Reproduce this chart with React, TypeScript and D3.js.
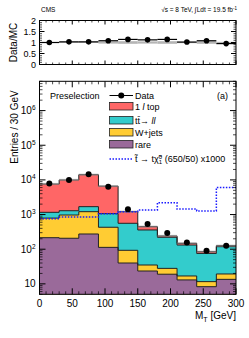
import React from "react";
import * as d3 from "d3";

const binEdges = [0, 30, 60, 90, 120, 150, 180, 210, 240, 270, 300];
const rare = [215, 207, 275, 113, 40, 23.5, 19, 13, 8.3, 13.5];
const wjets = [575, 763, 935, 317, 53, 11.5, 9, 3.9, 3.3, 5.8];
const ttll = [370, 320, 480, 630, 467, 324, 193, 115, 64, 99];
const top1l = [6440, 8660, 12410, 5540, 650, 88, 20, 16, 9, 8];
const dataVals = [7900, 10000, 14500, 6300, 1420, 535, 294, 155, 91, 126];
const signalX1000 = [760, 850, 850, 1060, 1200, 1350, 2200, 1450, 1270, 6000];
const ratioVals = [1.0, 1.03, 1.03, 1.08, 1.14, 1.12, 1.14, 1.02, 1.08, 0.95];
const ratioUnc = [0.02, 0.02, 0.02, 0.05, 0.06, 0.05, 0.06, 0.03, 0.06, 0.03];
const xTicks = [0, 50, 100, 150, 200, 250, 300];
const yDecades = [1, 2, 3, 4, 5, 6];
const ratioTicks = [0, 0.5, 1, 1.5, 2];

const colors = {
  rare: "#9a6a9a",
  wjets: "#ffcc33",
  ttll: "#33cccc",
  top1l: "#ff6666",
};

const FONT = "'Liberation Sans', Arial, Helvetica, sans-serif";

export default function App() {
  const x0 = 39.5, x1 = 236;
  const x = d3.scaleLinear().domain([0, 300]).range([x0, x1]);
  const y = d3.scaleLog().domain([5, 7e6]).range([294.3, 81.3]);
  const yr = d3.scaleLinear().domain([0, 2]).range([64.5, 20.5]);
  const nb = binEdges.length - 1;
  const idx = d3.range(nb);

  const layers = [
    { key: "rare", vals: rare, color: colors.rare },
    { key: "wjets", vals: wjets, color: colors.wjets },
    { key: "ttll", vals: ttll, color: colors.ttll },
    { key: "top1l", vals: top1l, color: colors.top1l },
  ];
  const cum: number[][] = [];
  let acc = idx.map(() => 0);
  layers.forEach((l) => {
    acc = acc.map((a, i) => a + l.vals[i]);
    cum.push(acc.slice());
  });
  const total = cum[cum.length - 1];

  const yBottom = y.range()[0];
  const stepPath = (vals: number[], close: boolean, ys: (v: number) => number) => {
    let d = "";
    idx.forEach((i) => {
      const xa = x(binEdges[i]), xb = x(binEdges[i + 1]);
      const yy = ys(vals[i]);
      d += (i === 0 ? (close ? `M${xa},${yBottom}L${xa},${yy}` : `M${xa},${yy}`) : `L${xa},${yy}`) + `L${xb},${yy}`;
    });
    if (close) d += `L${x(300)},${yBottom}Z`;
    return d;
  };

  // minor log ticks
  const logMinor: number[] = [];
  for (let k = 0; k <= 6; k++) {
    for (let m = 2; m <= 9; m++) {
      const v = m * Math.pow(10, k);
      if (v >= 5 && v <= 7e6) logMinor.push(v);
    }
  }
  const xMinor = d3.range(0, 301, 10).filter((v) => v % 50 !== 0);
  const rMinor = d3.range(0, 2.01, 0.1).filter((v) => Math.abs(v * 2 - Math.round(v * 2)) > 0.01);

  const mainTop = y.range()[1];
  const rTop = yr.range()[1], rBot = yr.range()[0];

  const legendX = 109.5, legendW = 23.5;
  const legendItems = [
    { label: "top1l", color: colors.top1l, y: 102.5 },
    { label: "ttll", color: colors.ttll, y: 116.5 },
    { label: "wjets", color: colors.wjets, y: 128.5 },
    { label: "rare", color: colors.rare, y: 140.5 },
  ];
  const legendText = (k: string) => {
    if (k === "top1l") return (<>1 <tspan fontStyle="italic">l</tspan> top</>);
    if (k === "ttll") return (<>t{"t\u0304"}→ <tspan fontStyle="italic">ll</tspan></>);
    if (k === "wjets") return "W+jets";
    return "rare";
  };

  return (
    <svg width={249} height={338} style={{ position: "absolute", left: 0, top: 0, background: "#fff" }} fontFamily={FONT}>
      <rect x={0} y={0} width={249} height={338} fill="#fff" />
      {/* header */}
      <text x={41} y={12} fontSize={6.5}>CMS</text>
      <text x={237} y={12} fontSize={6.5} textAnchor="end">
        √s = 8 TeV, ∫Ldt = 19.5 fb<tspan dy={-2.5} fontSize={4.5}>-1</tspan>
      </text>

      {/* ratio panel */}
      <g>
        {idx.map((i) => (
          <rect key={"ru" + i} x={x(binEdges[i])} width={x(binEdges[i + 1]) - x(binEdges[i])}
            y={yr(1 + ratioUnc[i])} height={yr(1 - ratioUnc[i]) - yr(1 + ratioUnc[i])} fill="#b5b5b5" />
        ))}
        {idx.map((i) => (
          <line key={"rl" + i} x1={x(binEdges[i])} x2={x(binEdges[i + 1])} y1={yr(ratioVals[i])} y2={yr(ratioVals[i])}
            stroke="#000" strokeWidth={1.2} />
        ))}
        {idx.map((i) => (
          <circle key={"rc" + i} cx={x((binEdges[i] + binEdges[i + 1]) / 2)} cy={yr(ratioVals[i])} r={2.8} fill="#000" />
        ))}
        <rect x={x0} y={rTop} width={x1 - x0} height={rBot - rTop} fill="none" stroke="#000" strokeWidth={1} />
        {ratioTicks.map((t) => (
          <g key={"rt" + t}>
            <line x1={x0} x2={x0 + 5} y1={yr(t)} y2={yr(t)} stroke="#000" />
            <line x1={x1} x2={x1 - 5} y1={yr(t)} y2={yr(t)} stroke="#000" />
            <text x={36} y={yr(t) + 3} fontSize={9} textAnchor="end">{t}</text>
          </g>
        ))}
        {rMinor.map((t) => (
          <g key={"rm" + t}>
            <line x1={x0} x2={x0 + 2.5} y1={yr(t)} y2={yr(t)} stroke="#000" strokeWidth={0.7} />
            <line x1={x1} x2={x1 - 2.5} y1={yr(t)} y2={yr(t)} stroke="#000" strokeWidth={0.7} />
          </g>
        ))}
        {xTicks.map((t) => (
          <g key={"rx" + t}>
            <line x1={x(t)} x2={x(t)} y1={rBot} y2={rBot - 4} stroke="#000" />
            <line x1={x(t)} x2={x(t)} y1={rTop} y2={rTop + 4} stroke="#000" />
          </g>
        ))}
        {xMinor.map((t) => (
          <g key={"rxm" + t}>
            <line x1={x(t)} x2={x(t)} y1={rBot} y2={rBot - 2} stroke="#000" strokeWidth={0.7} />
            <line x1={x(t)} x2={x(t)} y1={rTop} y2={rTop + 2} stroke="#000" strokeWidth={0.7} />
          </g>
        ))}
        <text transform={`translate(16.5,${(rTop + rBot) / 2}) rotate(-90)`} fontSize={10} textAnchor="middle">Data/MC</text>
      </g>

      {/* main panel */}
      <g>
        {layers.map((l, li) => null)}
        {[...layers].map((l, li) => ({ l, li })).reverse().map(({ l, li }) => (
          <path key={l.key} d={stepPath(cum[li], true, y)} fill={l.color} stroke="none" />
        ))}
        {layers.map((l, li) => (
          <path key={l.key + "o"} d={stepPath(cum[li], false, y)} fill="none" stroke="#222" strokeWidth={1} />
        ))}
        {idx.map((i) => (
          <rect key={"u" + i} x={x(binEdges[i])} width={x(binEdges[i + 1]) - x(binEdges[i])}
            y={y(total[i] * 1.08)} height={y(total[i] * 0.93) - y(total[i] * 1.08)} fill="#999" opacity={0.45} />
        ))}
        <path d={stepPath(signalX1000, false, y)} fill="none" stroke="#1a1aff" strokeWidth={1.5} strokeDasharray="1.5,1.5" />
        {idx.map((i) => (
          <circle key={"d" + i} cx={x((binEdges[i] + binEdges[i + 1]) / 2)} cy={y(dataVals[i])} r={3} fill="#000" />
        ))}
        <rect x={x0} y={mainTop} width={x1 - x0} height={yBottom - mainTop} fill="none" stroke="#000" strokeWidth={1} />
        {yDecades.map((k) => {
          const v = Math.pow(10, k);
          return (
            <g key={"yd" + k}>
              <line x1={x0} x2={x0 + 6} y1={y(v)} y2={y(v)} stroke="#000" />
              <line x1={x1} x2={x1 - 6} y1={y(v)} y2={y(v)} stroke="#000" />
              {k === 1 ? (
                <text x={35.5} y={y(v) + 3.5} fontSize={10} textAnchor="end">10</text>
              ) : (
                <text x={35.5} y={y(v) + 3.5} fontSize={10} textAnchor="end">
                  10<tspan dy={-4} fontSize={6.5}>{k}</tspan>
                </text>
              )}
            </g>
          );
        })}
        {logMinor.map((v) => (
          <g key={"ym" + v}>
            <line x1={x0} x2={x0 + 3} y1={y(v)} y2={y(v)} stroke="#000" strokeWidth={0.7} />
            <line x1={x1} x2={x1 - 3} y1={y(v)} y2={y(v)} stroke="#000" strokeWidth={0.7} />
          </g>
        ))}
        {xTicks.map((t) => (
          <g key={"xt" + t}>
            <line x1={x(t)} x2={x(t)} y1={yBottom} y2={yBottom - 6} stroke="#000" />
            <line x1={x(t)} x2={x(t)} y1={mainTop} y2={mainTop + 6} stroke="#000" />
            <text x={x(t)} y={306.5} fontSize={10} textAnchor="middle">{t}</text>
          </g>
        ))}
        {xMinor.map((t) => (
          <g key={"xm" + t}>
            <line x1={x(t)} x2={x(t)} y1={yBottom} y2={yBottom - 3} stroke="#000" strokeWidth={0.7} />
            <line x1={x(t)} x2={x(t)} y1={mainTop} y2={mainTop + 3} stroke="#000" strokeWidth={0.7} />
          </g>
        ))}
        <text x={236} y={319} fontSize={10} textAnchor="end">
          M<tspan dy={2.5} fontSize={7}>T</tspan><tspan dy={-2.5}> [GeV]</tspan>
        </text>
        <text transform={`translate(17.5,127) rotate(-90)`} fontSize={10} textAnchor="middle">Entries / 30 GeV</text>

        {/* legend */}
        <text x={50} y={99} fontSize={9}>Preselection</text>
        <line x1={legendX} x2={legendX + legendW} y1={95.5} y2={95.5} stroke="#000" strokeWidth={1} />
        <circle cx={legendX + legendW / 2} cy={95.5} r={3} fill="#000" />
        <text x={135} y={99} fontSize={9}>Data</text>
        {legendItems.map((it) => (
          <g key={it.label}>
            <rect x={legendX} y={it.y} width={legendW} height={7.5} fill={it.color} stroke="#222" strokeWidth={0.8} />
            <text x={135} y={it.y + 7} fontSize={9}>{legendText(it.label)}</text>
          </g>
        ))}
        <line x1={legendX} x2={legendX + legendW} y1={159} y2={159} stroke="#1a1aff" strokeWidth={1.5} strokeDasharray="1.5,1.5" />
        <text x={135} y={162} fontSize={9}>
          {"t\u0303"} → t{"\u03c7\u0303"}<tspan dy={2} fontSize={6}>1</tspan><tspan dy={-5} dx={-3.3} fontSize={6}>0</tspan><tspan dy={3}> (650/50) x1000</tspan>
        </text>
        <text x={228} y={99} fontSize={9} textAnchor="end">(a)</text>
      </g>
    </svg>
  );
}
